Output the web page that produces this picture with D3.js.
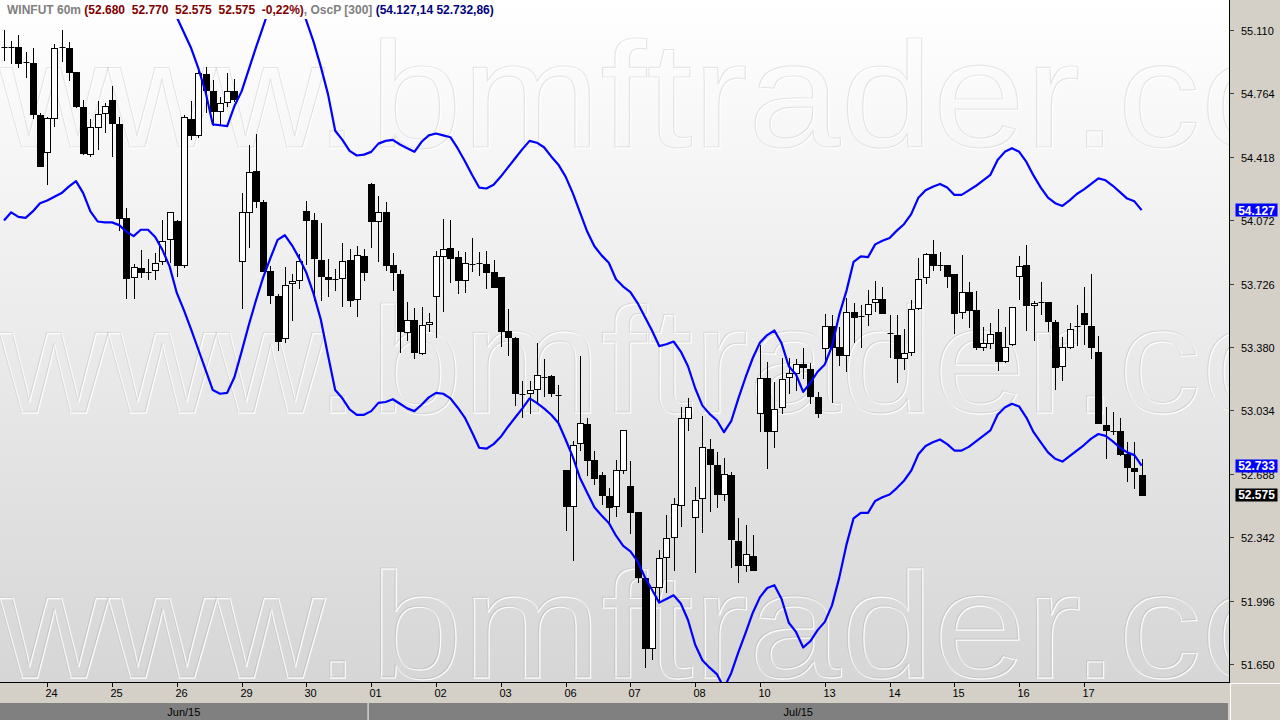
<!DOCTYPE html>
<html><head><meta charset="utf-8">
<script src="https://cdn.jsdelivr.net/npm/d3@7"></script>
<style>
html,body{margin:0;padding:0;background:#fff;}
svg{display:block;font-family:"Liberation Sans",Arial,sans-serif;}
</style></head><body>
<svg id="c" width="1280" height="720"></svg>
<script>
// ---- DATA (WINFUT 60m candles, index 0..158) ----
const opens = [55015,55015,55015,54935,54930,54645,54445,54630,55015,55010,54880,54690,54435,54580,54655,54730,54595,54085,53760,53810,53790,53800,53850,53970,54070,53825,54625,54535,54870,54775,54670,54715,54775,53850,54115,54340,54170,53795,53660,53430,53730,53745,54120,54075,53855,53760,53750,53755,53855,53640,53875,54270,54065,54115,53830,53780,53460,53530,53345,53505,53660,53875,53920,53870,53745,53835,53840,53835,53790,53760,53465,53430,53125,53130,53150,53215,53220,53120,52710,52510,52855,52960,52765,52680,52565,52510,52710,52620,52480,52120,51740,52070,52235,52345,52520,52995,52450,52555,52825,52735,52580,52680,52320,52190,52240,53020,53210,52920,53050,53215,53240,53285,53260,53105,53375,53495,53380,53335,53570,53550,53560,53625,53640,53455,53445,53320,53350,53595,53760,53890,53830,53830,53780,53570,53680,53580,53380,53400,53460,53305,53395,53770,53830,53610,53625,53625,53515,53275,53380,53495,53565,53495,53355,52955,52920,52920,52795,52720,52680];
const highs = [55110,55050,55085,54990,55010,54655,54635,55035,55110,55045,54880,54730,54625,54725,54710,54805,54635,54140,53835,53910,53860,53895,54075,54115,54075,54645,54720,54905,54910,54835,54745,54875,54840,54220,54480,54545,54180,53820,53670,53815,53780,53890,54175,54110,54055,53860,53805,53945,53915,53930,53915,54275,54205,54170,53895,53800,53625,53595,53600,53565,53905,54080,54075,53905,53900,53975,53900,53905,53855,53760,53590,53435,53195,53195,53400,53315,53225,53170,52710,52865,53330,52995,52810,52700,52610,52765,52925,52760,52480,52120,52070,52270,52465,52555,53050,53100,52615,53005,52880,52805,52775,52700,52445,52410,52355,53390,53300,53190,53320,53320,53315,53375,53290,53135,53560,53555,53490,53645,53620,53610,53690,53740,53710,53555,53555,53480,53635,53865,53895,53965,53900,53830,53780,53880,53735,53685,53490,53510,53590,53490,53600,53875,53935,53630,53735,53625,53530,53435,53510,53610,53710,53780,53440,53050,53025,52990,52860,52860,52770];
const lows = [54945,54930,54910,54855,54630,54370,54270,54585,54940,54835,54690,54435,54420,54460,54555,54420,54020,53645,53650,53760,53750,53750,53835,53845,53770,53815,54515,54525,54660,54590,54590,54695,54720,53595,53925,54145,53795,53620,53365,53405,53530,53700,53835,53635,53635,53660,53690,53605,53605,53550,53745,53925,53850,53800,53690,53355,53420,53320,53340,53465,53435,53575,53735,53675,53680,53795,53775,53700,53705,53385,53335,53065,53000,53020,53080,53110,53110,52955,52380,52220,52820,52680,52635,52525,52420,52460,52695,52365,52095,51635,51680,52000,52045,52165,52405,52925,52150,52370,52485,52505,52545,52180,52100,52155,52165,52920,52720,52835,53020,53130,53145,53210,53075,53000,53305,53080,53280,53250,53405,53380,53500,53575,53565,53325,53190,53260,53335,53590,53730,53800,53800,53710,53455,53540,53490,53370,53365,53375,53255,53300,53390,53640,53475,53420,53560,53470,53150,53200,53375,53390,53395,53320,52965,52775,52905,52790,52650,52610,52575];
const closes = [55015,55015,54930,54935,54650,54370,54630,55010,55015,54880,54695,54440,54580,54650,54695,54605,54085,53755,53815,53790,53790,53840,53960,54115,53825,54635,54535,54875,54785,54670,54710,54775,54735,54115,54335,54175,53795,53665,53415,53720,53740,53850,54075,53865,53770,53750,53750,53850,53635,53880,53790,54065,54115,53825,53790,53465,53530,53350,53500,53515,53875,53915,53865,53745,53840,53835,53840,53790,53710,53470,53435,53130,53125,53145,53225,53215,53130,53120,52510,52845,52965,52765,52665,52570,52505,52710,52925,52480,52125,51740,52070,52230,52340,52525,52995,53050,52545,52835,52740,52580,52685,52330,52190,52250,52165,53210,52920,53040,53205,53240,53285,53270,53110,53020,53495,53380,53335,53570,53545,53550,53615,53640,53565,53455,53320,53345,53585,53750,53885,53825,53830,53765,53565,53680,53580,53380,53400,53450,53305,53380,53600,53820,53610,53620,53625,53520,53270,53380,53480,53495,53505,53380,52965,52925,52920,52795,52725,52705,52575];
// OscP [300] bands (null = above the visible area)
const bandUpper = [null,null,null,null,null,null,null,null,null,null,null,null,null,null,null,null,null,null,null,null,null,null,null,55275,55180,55095,55010,54900,54770,54595,54590,54585,54695,54775,54895,55015,55130,55245,null,null,null,55275,55160,55045,54910,54760,54560,54510,54450,54425,54430,54445,54490,54505,54510,54485,54465,54445,54500,54535,54545,54535,54525,54465,54395,54320,54250,54245,54265,54310,54360,54410,54460,54505,54495,54470,54420,54375,54310,54220,54115,54010,53930,53880,53840,53750,53710,53680,53620,53545,53470,53385,53395,53410,53355,53275,53155,53060,53015,52980,52915,52975,53100,53215,53320,53405,53445,53470,53400,53275,53230,53135,53185,53245,53285,53385,53555,53685,53845,53875,53870,53940,53960,53975,54015,54050,54105,54195,54235,54255,54270,54250,54210,54210,54235,54260,54290,54320,54400,54445,54465,54445,54390,54315,54250,54195,54165,54150,54180,54215,54240,54270,54300,54290,54260,54225,54190,54175,54127.14];
const bandLower = [54070,54115,54090,54085,54120,54165,54180,54200,54220,54255,54285,54220,54120,54065,54060,54060,54045,54010,53985,54020,54020,53980,53910,53820,53675,53580,53475,53365,53255,53145,53125,53130,53215,53355,53500,53635,53760,53865,53965,53990,53935,53865,53785,53670,53530,53335,53145,53100,53040,53010,53010,53030,53075,53080,53095,53070,53045,53030,53065,53105,53130,53125,53100,53050,52995,52915,52830,52825,52850,52890,52945,52995,53045,53100,53075,53045,53010,52965,52875,52780,52665,52585,52505,52460,52420,52350,52295,52265,52210,52125,52055,51985,52005,52025,51980,51890,51755,51670,51630,51595,51520,51600,51715,51820,51930,52015,52065,52080,52005,51875,51825,51740,51775,51835,51880,51970,52120,52300,52445,52475,52475,52540,52560,52575,52610,52650,52705,52795,52840,52860,52875,52850,52815,52815,52835,52865,52895,52925,53010,53050,53070,53055,52995,52915,52860,52805,52770,52755,52785,52815,52845,52880,52905,52895,52865,52830,52805,52790,52732.86];
const dayLabels = ["24","25","26","29","30","01","02","03","06","07","08","10","13","14","15","16","17"];
const dayStart  = [6,15,24,33,42,51,60,69,78,87,96,105,114,123,132,141,150];
const monthLabels = ["Jun/15","Jul/15"];
const monthStart  = [0,51];
const yTicks = [51650,51996,52342,52688,53034,53380,53726,54072,54418,54764,55110];
const changePct = "-0,22%";

// ---- LAYOUT ----
const W = 1280, H = 720, plotR = 1229, plotB = 682, clipTop = 19;
const svg = d3.select("#c");
const n = opens.length;
const x = d3.scaleLinear().domain([0, 158]).range([4, 1141.6]);
const y = d3.scaleLinear().domain([51650, 55110]).range([664, 30]);
const fmtPt = v => d3.format(",.0f")(v).replace(/,/g, ".");
const fmtDec = v => d3.format(",.2f")(v).replace(/,/g, "#").replace(".", ",").replace(/#/g, ".");

const defs = svg.append("defs");
const grad = defs.append("linearGradient").attr("id","bg").attr("x1",0).attr("y1",0).attr("x2",0).attr("y2",1);
grad.append("stop").attr("offset","0%").attr("stop-color","#ffffff");
grad.append("stop").attr("offset","100%").attr("stop-color","#d6d6d6");
defs.append("clipPath").attr("id","plotclip").append("rect")
  .attr("x",0).attr("y",clipTop).attr("width",plotR).attr("height",plotB-clipTop);
defs.append("clipPath").attr("id","wmclip").append("rect")
  .attr("x",0).attr("y",0).attr("width",plotR).attr("height",plotB);

// background
svg.append("rect").attr("x",0).attr("y",0).attr("width",plotR).attr("height",plotB).attr("fill","url(#bg)");

// watermark (www.bmftrader.com, three rows)
const wm = svg.append("g").attr("clip-path","url(#wmclip)");
[147,412,677].forEach(by => {
  [[0.5, 1, "#ffffff", 0.9, 1.3], [-0.5, 0, "#000000", 0.09, 1.2]].forEach(([dx, dy, col, op, sw]) => {
    wm.append("text").attr("x", 0 + dx).attr("y", by + dy).text("www.")
      .attr("font-size",150).attr("fill","none").attr("stroke",col).attr("stroke-opacity",op).attr("stroke-width",sw);
    wm.append("text").attr("x", 370 + dx).attr("y", by + dy).text("bmftrader.com")
      .attr("textLength", 1062).attr("lengthAdjust","spacingAndGlyphs")
      .attr("font-size",150).attr("fill","none").attr("stroke",col).attr("stroke-opacity",op).attr("stroke-width",sw);
  });
});

// candles
const cg = svg.append("g").attr("clip-path","url(#plotclip)");
const idx = d3.range(n);
const cx = i => Math.round(x(i));
cg.selectAll("line.wick").data(idx).join("line")
  .attr("x1", i => cx(i)+0.5).attr("x2", i => cx(i)+0.5)
  .attr("y1", i => Math.round(y(highs[i]))).attr("y2", i => Math.round(y(lows[i]))+1)
  .attr("stroke","#000").attr("stroke-width",1);
idx.forEach(i => {
  const yo = Math.round(y(opens[i])), yc = Math.round(y(closes[i]));
  const top = Math.min(yo,yc), h = Math.abs(yo-yc);
  const up = closes[i] >= opens[i];
  if (h < 1) {
    cg.append("line").attr("x1", cx(i)-2.5).attr("x2", cx(i)+3.5)
      .attr("y1", top+0.5).attr("y2", top+0.5).attr("stroke","#000").attr("stroke-width",1);
  } else {
    cg.append("rect").attr("x", cx(i)-2.5).attr("y", top+0.5).attr("width",6).attr("height",h)
      .attr("fill", up ? "#ffffff" : "#000000").attr("stroke","#000").attr("stroke-width",1);
  }
});

// bands
const line = d3.line().defined(d => d != null).x((d,i) => x(i)).y(d => y(d));
const bg = svg.append("g").attr("clip-path","url(#plotclip)");
[bandUpper, bandLower].forEach(arr => {
  bg.append("path").attr("d", line(arr)).attr("fill","none").attr("stroke","#0000ff").attr("stroke-width",2.2).attr("stroke-linejoin","round");
});

// right axis panel
svg.append("rect").attr("x",plotR).attr("y",0).attr("width",W-plotR).attr("height",H).attr("fill","#d4d0c8");
svg.append("line").attr("x1",plotR+0.5).attr("x2",plotR+0.5).attr("y1",0).attr("y2",plotB).attr("stroke","#000");
const ya = svg.append("g");
ya.selectAll("line").data(yTicks).join("line")
  .attr("x1",plotR+1).attr("x2",plotR+5).attr("y1",d=>Math.round(y(d))+0.5).attr("y2",d=>Math.round(y(d))+0.5).attr("stroke","#404040");
ya.selectAll("text").data(yTicks).join("text")
  .attr("x",1241).attr("y",d=>y(d)+5).attr("font-size",11).attr("fill","#000").text(fmtPt);

// value tags
function tag(v, fill) {
  const yy = y(v);
  svg.append("rect").attr("x",1235.5).attr("y",Math.round(yy)-6.5).attr("width",42).attr("height",13).attr("fill",fill);
  svg.append("text").attr("x",1256.5).attr("y",yy+4.5).attr("text-anchor","middle").attr("font-size",12)
    .attr("font-weight","bold").attr("fill","#fff").text(fmtPt(v));
}
tag(bandUpper[n-1], "#0000ff");
tag(bandLower[n-1], "#0000ff");
tag(closes[n-1], "#000000");

// bottom axis
svg.append("rect").attr("x",0).attr("y",plotB).attr("width",plotR).attr("height",H-plotB).attr("fill","#d4d0c8");
svg.append("line").attr("x1",0).attr("x2",plotR+1).attr("y1",plotB+0.5).attr("y2",plotB+0.5).attr("stroke","#000");
const xa = svg.append("g");
xa.selectAll("line").data(dayStart).join("line")
  .attr("x1",d=>cx(d)+0.5).attr("x2",d=>cx(d)+0.5).attr("y1",plotB+1).attr("y2",plotB+5).attr("stroke","#000");
xa.selectAll("text").data(dayStart).join("text")
  .attr("x",d=>cx(d)-1.5).attr("y",697).attr("font-size",11).attr("fill","#000").text((d,i)=>dayLabels[i]);

// month bar
const splitX = (x(monthStart[1]-1) + x(monthStart[1]))/2;
const mEdges = [0, splitX, plotR];
monthLabels.forEach((m,i) => {
  const x0 = mEdges[i] + (i ? 1 : 0), x1 = mEdges[i+1] - (i ? 1 : 0);
  svg.append("rect").attr("x",x0).attr("y",703).attr("width",x1-x0).attr("height",17).attr("fill","#808080");
  svg.append("text").attr("x",(x0+x1)/2).attr("y",716).attr("text-anchor","middle").attr("font-size",11).attr("fill","#000").text(m);
});
svg.append("line").attr("x1",splitX+0.5).attr("x2",splitX+0.5).attr("y1",703).attr("y2",720).attr("stroke","#d4d0c8");
// bottom-right corner
svg.append("rect").attr("x",plotR+1).attr("y",plotB+1).attr("width",W-plotR-1).attr("height",H-plotB-1).attr("fill","#d4d0c8");
svg.append("line").attr("x1",plotR+1.5).attr("x2",W).attr("y1",plotB+1.5).attr("y2",plotB+1.5).attr("stroke","#ffffff");
svg.append("line").attr("x1",plotR+1.5).attr("x2",plotR+1.5).attr("y1",plotB+1.5).attr("y2",H).attr("stroke","#ffffff");

// title
const L = n-1;
const t = svg.append("text").attr("x",7).attr("y",14).attr("font-size",12).attr("font-weight","bold").style("white-space","pre");
t.append("tspan").attr("fill","#808080").text("WINFUT 60m ");
t.append("tspan").attr("fill","#800000").text("(" + [opens[L],highs[L],lows[L],closes[L]].map(fmtPt).join("  ") + "  " + changePct + ")");
t.append("tspan").attr("fill","#808080").text(", OscP [300] ");
t.append("tspan").attr("fill","#000080").text("(" + fmtDec(bandUpper[L]) + " " + fmtDec(bandLower[L]) + ")");
</script>
</body></html>
